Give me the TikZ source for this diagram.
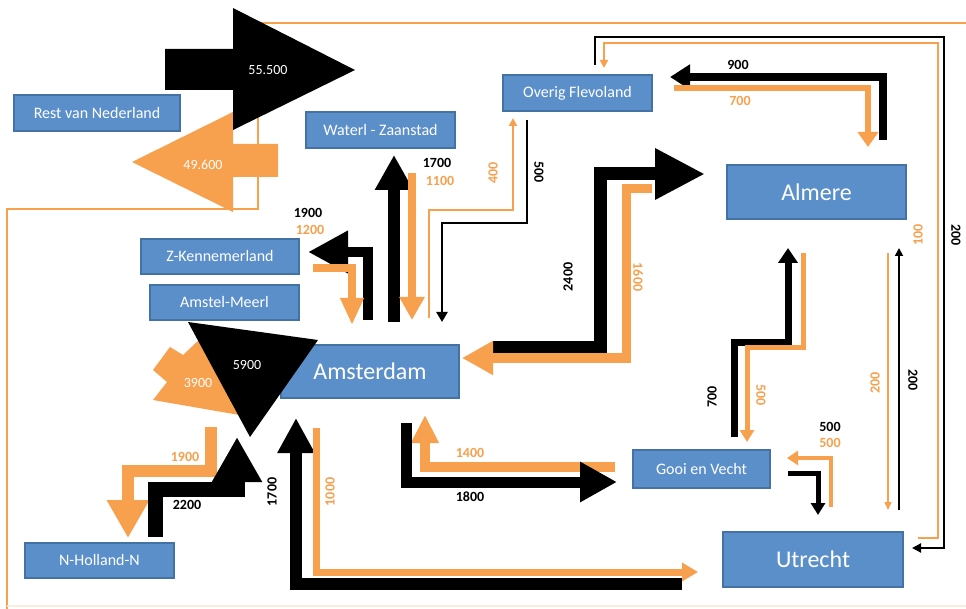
\documentclass[tikz,border=0pt]{standalone}
\usepackage{fontspec}
\setmainfont{Carlito}
\usetikzlibrary{arrows.meta}
\definecolor{boxfill}{HTML}{5B8FCA}
\definecolor{boxline}{HTML}{4472A4}
\definecolor{flow}{HTML}{F7A14F}
\tikzset{
  region/.style={draw=boxline, line width=1.5pt, fill=boxfill, text=white,
    inner sep=0pt, font=\fontsize{16}{19}\selectfont},
  bigregion/.style={region, font=\fontsize{24}{28}\selectfont},
  num/.style={font=\bfseries\fontsize{14}{16}\selectfont, inner sep=1pt},
  outnum/.style={num, text=black},
  innum/.style={num, text=flow},
  bignum/.style={text=white, font=\fontsize{14}{16}\selectfont, inner sep=1pt},
  head/.style 2 args={-{Triangle[length=#1,width=#2]}},
  outflow/.style={draw=black},
  inflow/.style={draw=flow},
}
\begin{document}
\begin{tikzpicture}[x=1pt,y=-1pt]
\useasboundingbox (0,0) rectangle (966,609);
\fill[white] (0,0) rectangle (966,609);

% orange frame line
\draw[flow, line width=2pt] (7,609) -- (7,209) -- (258,209) -- (258,23) -- (966,23);
\draw[flow!20, line width=2pt] (7,606) -- (966,606);

% regions
\node[region, minimum width=166pt, minimum height=36pt] (rest) at (97,113) {Rest van Nederland};
\node[region, minimum width=149pt, minimum height=36pt] (waterl) at (380.5,130) {Waterl - Zaanstad};
\node[region, minimum width=149pt, minimum height=36pt] (overig) at (577.5,93) {Overig Flevoland};
\node[bigregion, minimum width=179pt, minimum height=54pt] (almere) at (816.5,192) {Almere};
\node[region, minimum width=158pt, minimum height=35pt] (zkenn) at (220,256.5) {Z-Kennemerland};
\node[region, minimum width=149pt, minimum height=35pt] (amstel) at (224.5,302.5) {Amstel-Meerl};
\node[bigregion, minimum width=178pt, minimum height=53pt] (ams) at (370,371.5) {Amsterdam};
\node[region, minimum width=137pt, minimum height=38pt] (gooi) at (701.5,469) {Gooi en Vecht};
\node[region, minimum width=149pt, minimum height=35pt] (nhn) at (99.5,560.5) {N-Holland-N};
\node[bigregion, minimum width=180pt, minimum height=55pt] (utr) at (813,559.5) {Utrecht};

% exchange with the rest of the country
\fill[flow] (278,144) -- (233,144) -- (233,112) -- (132,162) -- (233,212) -- (233,177) -- (278,177) -- cycle;
\node[bignum] (n49600) at (203,165) {49.600};
\fill[black] (165,49) -- (233,49) -- (233,8) -- (355,70) -- (233,130) -- (233,90) -- (165,90) -- cycle;
\node[bignum] (n55500) at (268,70) {55.500};

% Amstel-Meerl
\fill[flow] (200,339) -- (183,355) -- (170,347) -- (153,370) -- (167,382) -- (153,400) -- (245,416) -- (250,350) -- cycle;
\node[bignum] (n3900) at (198,383) {3900};
\fill[black] (188,322) -- (318,340) -- (250,437) -- cycle;
\node[bignum] (n5900) at (247,365) {5900};

% Utrecht - Overig Flevoland (long way round)
\coordinate (ovA) at (595,65);
\coordinate (utA) at (912,548);
\draw[outflow, line width=2pt, head={9pt}{9pt}] (ovA) -- (595,37) -- (944,37) |- (utA);
\node[outnum, rotate=-90] (l200a) at (956,235) {200};
\coordinate (utB) at (918,538);
\coordinate (ovB) at (604,68);
\draw[inflow, line width=2pt, head={8pt}{8pt}] (utB) -- (938,538) -- (938,43) -| (ovB);
\node[innum, rotate=90] (l100) at (918,235) {100};

% Almere - Overig Flevoland
\coordinate (alA) at (883,140);
\coordinate (ovC) at (670,77);
\draw[outflow, line width=8pt, head={20pt}{24pt}] (alA) |- (ovC);
\node[outnum] (l900) at (738,65) {900};
\coordinate (ovD) at (674,88);
\coordinate (alB) at (868,147);
\draw[inflow, line width=6pt, head={15pt}{20pt}] (ovD) -| (alB);
\node[innum] (l700) at (740,101) {700};

% Overig Flevoland - Amsterdam
\coordinate (ovE) at (527,120);
\coordinate (amA) at (442,322);
\draw[outflow, line width=2.5pt, head={10pt}{11pt}] (ovE) -- (527,223) -| (amA);
\node[outnum, rotate=-90] (l500a) at (539,172) {500};
\coordinate (amB) at (429,318);
\coordinate (ovF) at (513,118);
\draw[inflow, line width=2pt, head={8pt}{8pt}] (amB) -- (429,210) -| (ovF);
\node[innum, rotate=90] (l400) at (493,173) {400};

% Waterl - Zaanstad
\coordinate (amC) at (394,322);
\coordinate (waA) at (394,155);
\draw[outflow, line width=12pt, head={35pt}{36pt}] (amC) -- (waA);
\coordinate (waB) at (412,173);
\coordinate (amD) at (412,320);
\draw[inflow, line width=8pt, head={23pt}{24pt}] (waB) -- (amD);
\node[outnum] (l1700a) at (437,163) {1700};
\node[innum] (l1100) at (440,181) {1100};

% Z-Kennemerland
\coordinate (amE) at (368,320);
\coordinate (zkA) at (308,252);
\draw[outflow, line width=10pt, head={40pt}{40pt}] (amE) |- (zkA);
\coordinate (zkB) at (313,268);
\coordinate (amF) at (352,325);
\draw[inflow, line width=8pt, head={27pt}{22pt}] (zkB) -| (amF);
\node[outnum] (l1900a) at (308,213) {1900};
\node[innum] (l1200) at (310,230) {1200};

% N-Holland-N
\coordinate (amG) at (211,427);
\coordinate (nhA) at (128,538);
\draw[inflow, line width=12pt, head={38pt}{40pt}] (amG) -- (211,471) -| (nhA);
\node[innum] (l1900b) at (185,457) {1900};
\coordinate (nhB) at (155,537);
\coordinate (amH) at (237,437);
\draw[outflow, line width=15pt, head={45pt}{47pt}] (nhB) -- (155,489) -| (amH);
\node[outnum] (l2200) at (187,505) {2200};

% Utrecht - Amsterdam
\coordinate (utC) at (682,584);
\coordinate (amI) at (296,418);
\draw[outflow, line width=12pt, head={35pt}{35pt}] (utC) -| (amI);
\node[outnum, rotate=90] (l1700b) at (272,492) {1700};
\coordinate (amJ) at (316,428);
\coordinate (utD) at (698,572);
\draw[inflow, line width=7pt, head={16pt}{18pt}] (amJ) |- (utD);
\node[innum, rotate=90] (l1000) at (330,492) {1000};

% Gooi en Vecht - Amsterdam
\coordinate (goA) at (615,467);
\coordinate (amK) at (425,415);
\draw[inflow, line width=10pt, head={28pt}{26pt}] (goA) -| (amK);
\node[innum] (l1400) at (470,453) {1400};
\coordinate (amL) at (406,423);
\coordinate (goB) at (617,482);
\draw[outflow, line width=11pt, head={37pt}{38pt}] (amL) |- (goB);
\node[outnum] (l1800) at (470,497) {1800};

% Almere - Amsterdam
\coordinate (amM) at (493,348);
\coordinate (alC) at (705,174);
\draw[outflow, line width=13pt, head={50pt}{48pt}] (amM) -- (600,348) |- (alC);
\node[outnum, rotate=90] (l2400) at (568,277) {2400};
\coordinate (alD) at (652,189);
\coordinate (amN) at (462,358);
\draw[inflow, line width=9pt, head={31pt}{32pt}] (alD) -- (626,189) |- (amN);
\node[innum, rotate=-90] (l1600) at (638,277) {1600};

% Almere - Gooi en Vecht
\coordinate (goC) at (734,437);
\coordinate (alE) at (788,248);
\draw[outflow, line width=7pt, head={15pt}{19pt}] (goC) -- (734,343) -| (alE);
\node[outnum, rotate=90] (l700) at (712,397) {700};
\coordinate (alF) at (803,253);
\coordinate (goD) at (747,442);
\draw[inflow, line width=5pt, head={12pt}{14pt}] (alF) -- (803,348) -| (goD);
\node[innum, rotate=-90] (l500b) at (761,395) {500};

% Gooi en Vecht - Utrecht
\coordinate (goE) at (788,473);
\coordinate (utE) at (818,515);
\draw[outflow, line width=5pt, head={12pt}{14pt}] (goE) -| (utE);
\coordinate (utF) at (831,507);
\coordinate (goF) at (787,458);
\draw[inflow, line width=4pt, head={11pt}{14pt}] (utF) |- (goF);
\node[outnum] (l500c) at (830,427) {500};
\node[innum] (l500d) at (830,443) {500};

% Almere - Utrecht
\coordinate (utG) at (899,510);
\coordinate (alG) at (899,248);
\draw[outflow, line width=1.8pt, head={8pt}{8pt}] (utG) -- (alG);
\node[outnum, rotate=-90] (l200b) at (913,380) {200};
\coordinate (alH) at (888,253);
\coordinate (utH) at (888,510);
\draw[inflow, line width=1.5pt, head={8pt}{7pt}] (alH) -- (utH);
\node[innum, rotate=90] (l200c) at (875,383) {200};
\end{tikzpicture}
\end{document}
